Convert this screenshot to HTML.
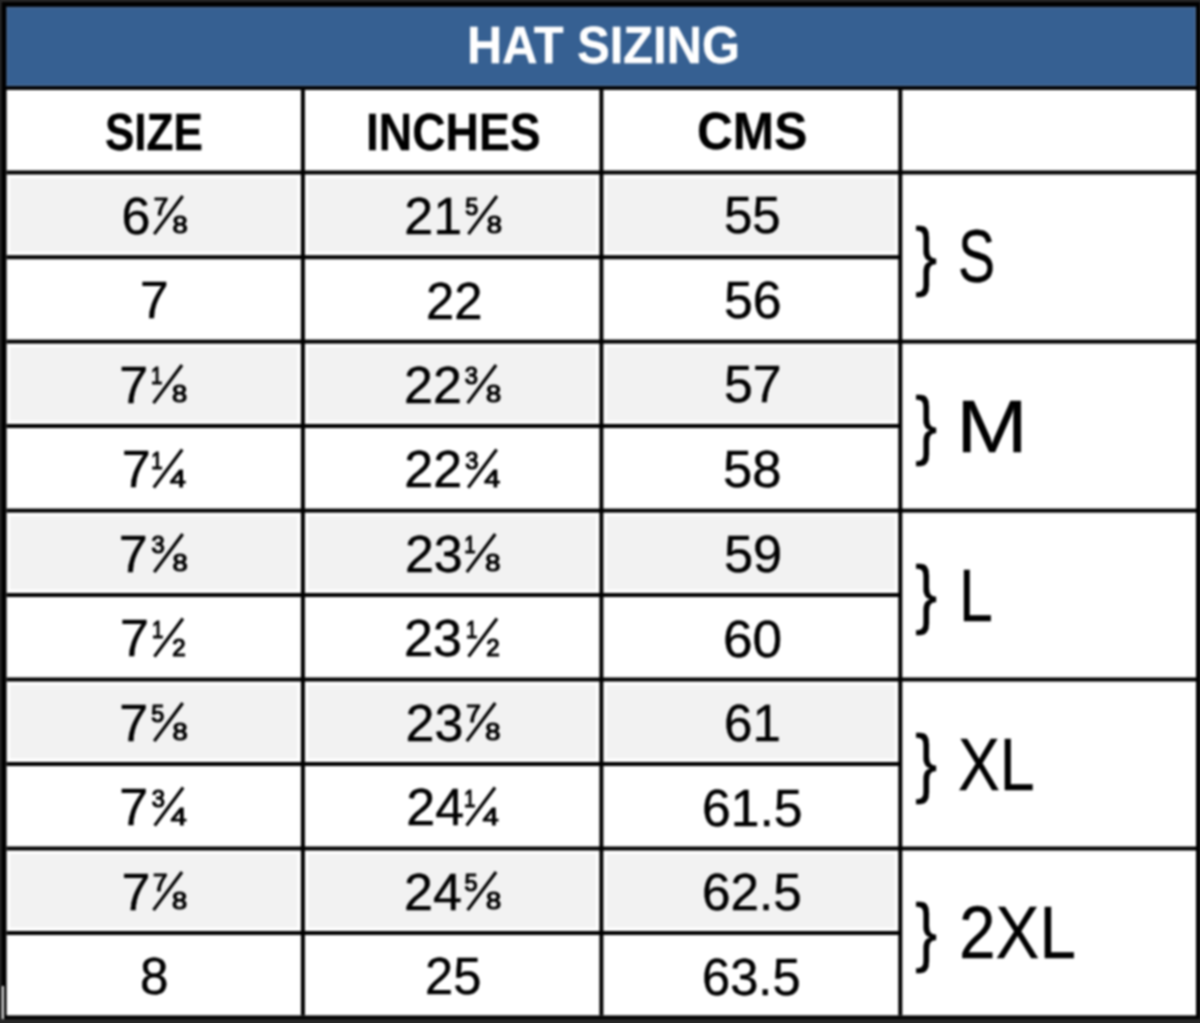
<!DOCTYPE html>
<html><head><meta charset="utf-8"><title>Hat Sizing</title>
<style>
html,body{margin:0;padding:0;width:1200px;height:1023px;overflow:hidden;background:#272727;}
svg{position:absolute;left:0;top:0;}
#w{position:absolute;left:0;top:0;width:1200px;height:1023px;filter:blur(0.8px);}
.f{-webkit-text-stroke:0.9px currentColor;}
.t{position:absolute;font-family:"Liberation Sans",sans-serif;line-height:1;white-space:nowrap;color:#000;transform-origin:0 0;}
</style></head><body>
<div id="w">
<svg width="1200" height="1023" viewBox="0 0 1200 1023">
<rect x="0" y="0" width="1200" height="1023" fill="#272727"/>
<rect x="1.7" y="2.0" width="1198.3" height="1017.1" fill="#000"/>
<rect x="6.6" y="89.8" width="1189.4" height="925.6" fill="#fff"/>
<rect x="6.6" y="6.9" width="1189.4" height="79.39999999999999" fill="#366092"/>
<rect x="6.6" y="6.9" width="1189.4" height="1.6" fill="#4a6a94"/>
<rect x="6.6" y="84.7" width="1189.4" height="1.6" fill="#4a6a94"/>
<rect x="6.6" y="6.9" width="1.6" height="79.39999999999999" fill="#4a6a94"/>
<rect x="1194.4" y="6.9" width="1.6" height="79.39999999999999" fill="#4a6a94"/>
<rect x="10.10" y="178.00" width="287.30" height="73.70" fill="#f2f2f2"/>
<rect x="308.40" y="178.00" width="287.50" height="73.70" fill="#f2f2f2"/>
<rect x="606.90" y="178.00" width="287.90" height="73.70" fill="#f2f2f2"/>
<rect x="10.10" y="347.10" width="287.30" height="73.40" fill="#f2f2f2"/>
<rect x="308.40" y="347.10" width="287.50" height="73.40" fill="#f2f2f2"/>
<rect x="606.90" y="347.10" width="287.90" height="73.40" fill="#f2f2f2"/>
<rect x="10.10" y="516.10" width="287.30" height="73.40" fill="#f2f2f2"/>
<rect x="308.40" y="516.10" width="287.50" height="73.40" fill="#f2f2f2"/>
<rect x="606.90" y="516.10" width="287.90" height="73.40" fill="#f2f2f2"/>
<rect x="10.10" y="685.00" width="287.30" height="73.50" fill="#f2f2f2"/>
<rect x="308.40" y="685.00" width="287.50" height="73.50" fill="#f2f2f2"/>
<rect x="606.90" y="685.00" width="287.90" height="73.50" fill="#f2f2f2"/>
<rect x="10.10" y="854.00" width="287.30" height="73.50" fill="#f2f2f2"/>
<rect x="308.40" y="854.00" width="287.50" height="73.50" fill="#f2f2f2"/>
<rect x="606.90" y="854.00" width="287.90" height="73.50" fill="#f2f2f2"/>
<rect x="6.6" y="170.50" width="1189.40" height="4.0" fill="#000"/>
<rect x="6.6" y="255.20" width="893.70" height="4.0" fill="#000"/>
<rect x="6.6" y="339.60" width="1189.40" height="4.0" fill="#000"/>
<rect x="6.6" y="424.00" width="893.70" height="4.0" fill="#000"/>
<rect x="6.6" y="508.60" width="1189.40" height="4.0" fill="#000"/>
<rect x="6.6" y="593.00" width="893.70" height="4.0" fill="#000"/>
<rect x="6.6" y="677.50" width="1189.40" height="4.0" fill="#000"/>
<rect x="6.6" y="762.00" width="893.70" height="4.0" fill="#000"/>
<rect x="6.6" y="846.50" width="1189.40" height="4.0" fill="#000"/>
<rect x="6.6" y="931.00" width="893.70" height="4.0" fill="#000"/>
<rect x="300.90" y="89.8" width="4.0" height="925.6" fill="#000"/>
<rect x="599.40" y="89.8" width="4.0" height="925.6" fill="#000"/>
<rect x="898.30" y="89.8" width="4.0" height="925.6" fill="#000"/>
<rect x="6.6" y="86.3" width="1189.4" height="3.5" fill="#000"/>
<rect x="1.9" y="986" width="1.9" height="33" fill="#fff"/><g font-family="Liberation Sans"><text transform="translate(121.56,233.80) scale(1.0000,1)" font-size="52.0" stroke="#000" stroke-width="0.45" fill="#000">6</text><text transform="translate(153.76,215.20) scale(1.0720,1)" font-size="24.42" stroke="#000" stroke-width="1.2" fill="#000">7</text><text transform="translate(172.61,233.20) scale(1.1171,1)" font-size="24.42" stroke="#000" stroke-width="1.2" fill="#000">8</text><line x1="154.20" y1="234.10" x2="182.70" y2="196.00" stroke="#000" stroke-width="3.2"/><text transform="translate(404.28,233.80) scale(1.0000,1)" font-size="52.0" stroke="#000" stroke-width="0.45" fill="#000">21</text><text transform="translate(465.36,215.20) scale(0.9588,1)" font-size="24.42" stroke="#000" stroke-width="1.2" fill="#000">5</text><text transform="translate(486.81,233.20) scale(1.1171,1)" font-size="24.42" stroke="#000" stroke-width="1.2" fill="#000">8</text><line x1="468.40" y1="234.10" x2="496.90" y2="196.00" stroke="#000" stroke-width="3.2"/><text transform="translate(119.33,402.80) scale(1.0000,1)" font-size="52.0" stroke="#000" stroke-width="0.45" fill="#000">7</text><text transform="translate(151.05,384.20) scale(0.8358,1)" font-size="24.42" stroke="#000" stroke-width="1.2" fill="#000">1</text><text transform="translate(171.91,402.20) scale(1.1171,1)" font-size="24.42" stroke="#000" stroke-width="1.2" fill="#000">8</text><line x1="153.50" y1="403.10" x2="182.00" y2="365.00" stroke="#000" stroke-width="3.2"/><text transform="translate(404.08,402.80) scale(1.0000,1)" font-size="52.0" stroke="#000" stroke-width="0.45" fill="#000">22</text><text transform="translate(464.79,384.20) scale(0.9760,1)" font-size="24.42" stroke="#000" stroke-width="1.2" fill="#000">3</text><text transform="translate(486.01,402.20) scale(1.1171,1)" font-size="24.42" stroke="#000" stroke-width="1.2" fill="#000">8</text><line x1="467.60" y1="403.10" x2="496.10" y2="365.00" stroke="#000" stroke-width="3.2"/><text transform="translate(121.73,487.30) scale(1.0000,1)" font-size="52.0" stroke="#000" stroke-width="0.45" fill="#000">7</text><text transform="translate(151.30,468.70) scale(0.8358,1)" font-size="24.42" stroke="#000" stroke-width="1.2" fill="#000">1</text><text transform="translate(169.94,486.70) scale(1.1703,1)" font-size="24.42" stroke="#000" stroke-width="1.2" fill="#000">4</text><line x1="153.75" y1="487.60" x2="182.25" y2="449.50" stroke="#000" stroke-width="3.2"/><text transform="translate(404.28,487.30) scale(1.0000,1)" font-size="52.0" stroke="#000" stroke-width="0.45" fill="#000">22</text><text transform="translate(465.34,468.70) scale(0.9760,1)" font-size="24.42" stroke="#000" stroke-width="1.2" fill="#000">3</text><text transform="translate(484.34,486.70) scale(1.1703,1)" font-size="24.42" stroke="#000" stroke-width="1.2" fill="#000">4</text><line x1="468.15" y1="487.60" x2="496.65" y2="449.50" stroke="#000" stroke-width="3.2"/><text transform="translate(118.63,571.80) scale(1.0000,1)" font-size="52.0" stroke="#000" stroke-width="0.45" fill="#000">7</text><text transform="translate(151.39,553.20) scale(0.9760,1)" font-size="24.42" stroke="#000" stroke-width="1.2" fill="#000">3</text><text transform="translate(172.61,571.20) scale(1.1171,1)" font-size="24.42" stroke="#000" stroke-width="1.2" fill="#000">8</text><line x1="154.20" y1="572.10" x2="182.70" y2="534.00" stroke="#000" stroke-width="3.2"/><text transform="translate(404.88,571.80) scale(1.0000,1)" font-size="52.0" stroke="#000" stroke-width="0.45" fill="#000">23</text><text transform="translate(464.35,553.20) scale(0.8358,1)" font-size="24.42" stroke="#000" stroke-width="1.2" fill="#000">1</text><text transform="translate(485.21,571.20) scale(1.1171,1)" font-size="24.42" stroke="#000" stroke-width="1.2" fill="#000">8</text><line x1="466.80" y1="572.10" x2="495.30" y2="534.00" stroke="#000" stroke-width="3.2"/><text transform="translate(120.03,656.30) scale(1.0000,1)" font-size="52.0" stroke="#000" stroke-width="0.45" fill="#000">7</text><text transform="translate(151.95,637.70) scale(0.8358,1)" font-size="24.42" stroke="#000" stroke-width="1.2" fill="#000">1</text><text transform="translate(172.19,655.70) scale(0.9888,1)" font-size="24.42" stroke="#000" stroke-width="1.2" fill="#000">2</text><line x1="154.40" y1="656.60" x2="182.90" y2="618.50" stroke="#000" stroke-width="3.2"/><text transform="translate(404.08,656.30) scale(1.0000,1)" font-size="52.0" stroke="#000" stroke-width="0.45" fill="#000">23</text><text transform="translate(466.05,637.70) scale(0.8358,1)" font-size="24.42" stroke="#000" stroke-width="1.2" fill="#000">1</text><text transform="translate(486.29,655.70) scale(0.9888,1)" font-size="24.42" stroke="#000" stroke-width="1.2" fill="#000">2</text><line x1="468.50" y1="656.60" x2="497.00" y2="618.50" stroke="#000" stroke-width="3.2"/><text transform="translate(119.33,740.80) scale(1.0000,1)" font-size="52.0" stroke="#000" stroke-width="0.45" fill="#000">7</text><text transform="translate(151.16,722.20) scale(0.9588,1)" font-size="24.42" stroke="#000" stroke-width="1.2" fill="#000">5</text><text transform="translate(172.61,740.20) scale(1.1171,1)" font-size="24.42" stroke="#000" stroke-width="1.2" fill="#000">8</text><line x1="154.20" y1="741.10" x2="182.70" y2="703.00" stroke="#000" stroke-width="3.2"/><text transform="translate(405.58,740.80) scale(1.0000,1)" font-size="52.0" stroke="#000" stroke-width="0.45" fill="#000">23</text><text transform="translate(466.36,722.20) scale(1.0720,1)" font-size="24.42" stroke="#000" stroke-width="1.2" fill="#000">7</text><text transform="translate(485.21,740.20) scale(1.1171,1)" font-size="24.42" stroke="#000" stroke-width="1.2" fill="#000">8</text><line x1="466.80" y1="741.10" x2="495.30" y2="703.00" stroke="#000" stroke-width="3.2"/><text transform="translate(119.33,825.30) scale(1.0000,1)" font-size="52.0" stroke="#000" stroke-width="0.45" fill="#000">7</text><text transform="translate(151.84,806.70) scale(0.9760,1)" font-size="24.42" stroke="#000" stroke-width="1.2" fill="#000">3</text><text transform="translate(170.84,824.70) scale(1.1703,1)" font-size="24.42" stroke="#000" stroke-width="1.2" fill="#000">4</text><line x1="154.65" y1="825.60" x2="183.15" y2="787.50" stroke="#000" stroke-width="3.2"/><text transform="translate(406.28,825.30) scale(1.0000,1)" font-size="52.0" stroke="#000" stroke-width="0.45" fill="#000">24</text><text transform="translate(464.10,806.70) scale(0.8358,1)" font-size="24.42" stroke="#000" stroke-width="1.2" fill="#000">1</text><text transform="translate(482.74,824.70) scale(1.1703,1)" font-size="24.42" stroke="#000" stroke-width="1.2" fill="#000">4</text><line x1="466.55" y1="825.60" x2="495.05" y2="787.50" stroke="#000" stroke-width="3.2"/><text transform="translate(121.53,909.80) scale(1.0000,1)" font-size="52.0" stroke="#000" stroke-width="0.45" fill="#000">7</text><text transform="translate(153.06,891.20) scale(1.0720,1)" font-size="24.42" stroke="#000" stroke-width="1.2" fill="#000">7</text><text transform="translate(171.91,909.20) scale(1.1171,1)" font-size="24.42" stroke="#000" stroke-width="1.2" fill="#000">8</text><line x1="153.50" y1="910.10" x2="182.00" y2="872.00" stroke="#000" stroke-width="3.2"/><text transform="translate(404.08,909.80) scale(1.0000,1)" font-size="52.0" stroke="#000" stroke-width="0.45" fill="#000">24</text><text transform="translate(464.56,891.20) scale(0.9588,1)" font-size="24.42" stroke="#000" stroke-width="1.2" fill="#000">5</text><text transform="translate(486.01,909.20) scale(1.1171,1)" font-size="24.42" stroke="#000" stroke-width="1.2" fill="#000">8</text><line x1="467.60" y1="910.10" x2="496.10" y2="872.00" stroke="#000" stroke-width="3.2"/></g>
</svg>
<div class="t" style="left:466.69px;top:19.56px;font-size:51.50px;transform:scaleX(0.9473);font-weight:bold;color:#fff;-webkit-text-stroke:0.4px currentColor;">HAT SIZING</div>
<div class="t" style="left:105.46px;top:107.08px;font-size:51.00px;transform:scaleX(0.8635);font-weight:bold;-webkit-text-stroke:0.3px currentColor;">SIZE</div>
<div class="t" style="left:365.87px;top:107.08px;font-size:51.00px;transform:scaleX(0.9064);font-weight:bold;-webkit-text-stroke:0.3px currentColor;">INCHES</div>
<div class="t" style="left:696.79px;top:106.38px;font-size:51.00px;transform:scaleX(0.9727);font-weight:bold;-webkit-text-stroke:0.3px currentColor;">CMS</div>
<div class="t" style="left:724.35px;top:189.47px;font-size:52.00px;transform:scaleX(0.9807);-webkit-text-stroke:0.45px currentColor;">55</div>
<div class="t" style="left:139.81px;top:274.47px;font-size:52.00px;transform:scaleX(0.9907);-webkit-text-stroke:0.45px currentColor;">7</div>
<div class="t" style="left:425.88px;top:274.97px;font-size:52.00px;transform:scaleX(0.9767);-webkit-text-stroke:0.45px currentColor;">22</div>
<div class="t" style="left:724.33px;top:274.47px;font-size:52.00px;transform:scaleX(0.9961);-webkit-text-stroke:0.45px currentColor;">56</div>
<div class="t" style="left:724.31px;top:358.48px;font-size:52.00px;transform:scaleX(0.9961);-webkit-text-stroke:0.45px currentColor;">57</div>
<div class="t" style="left:722.83px;top:443.49px;font-size:52.00px;transform:scaleX(1.0108);-webkit-text-stroke:0.45px currentColor;">58</div>
<div class="t" style="left:723.81px;top:527.98px;font-size:52.00px;transform:scaleX(1.0070);-webkit-text-stroke:0.45px currentColor;">59</div>
<div class="t" style="left:722.74px;top:612.53px;font-size:52.00px;transform:scaleX(1.0222);-webkit-text-stroke:0.45px currentColor;">60</div>
<div class="t" style="left:723.84px;top:697.02px;font-size:52.00px;transform:scaleX(0.9818);-webkit-text-stroke:0.45px currentColor;">61</div>
<div class="t" style="left:701.56px;top:781.52px;font-size:52.00px;transform:scaleX(0.9927);-webkit-text-stroke:0.45px currentColor;">61.5</div>
<div class="t" style="left:702.34px;top:866.03px;font-size:52.00px;transform:scaleX(0.9865);-webkit-text-stroke:0.45px currentColor;">62.5</div>
<div class="t" style="left:139.83px;top:950.48px;font-size:52.00px;transform:scaleX(0.9856);-webkit-text-stroke:0.45px currentColor;">8</div>
<div class="t" style="left:425.40px;top:950.49px;font-size:52.00px;transform:scaleX(0.9738);-webkit-text-stroke:0.45px currentColor;">25</div>
<div class="t" style="left:702.36px;top:950.53px;font-size:52.00px;transform:scaleX(0.9741);-webkit-text-stroke:0.45px currentColor;">63.5</div>
<div class="t" style="left:915.26px;top:218.16px;font-size:75.60px;transform:scaleX(0.8813);-webkit-text-stroke:0.3px currentColor;">}</div>
<div class="t" style="left:958.46px;top:219.48px;font-size:74.80px;transform:scaleX(0.7432);-webkit-text-stroke:0.35px currentColor;">S</div>
<div class="t" style="left:915.26px;top:387.17px;font-size:75.60px;transform:scaleX(0.8813);-webkit-text-stroke:0.3px currentColor;">}</div>
<div class="t" style="left:955.82px;top:388.75px;font-size:74.80px;transform:scaleX(1.1557);-webkit-text-stroke:0.35px currentColor;">M</div>
<div class="t" style="left:915.26px;top:556.17px;font-size:75.60px;transform:scaleX(0.8813);-webkit-text-stroke:0.3px currentColor;">}</div>
<div class="t" style="left:959.27px;top:557.62px;font-size:74.80px;transform:scaleX(0.8144);-webkit-text-stroke:0.35px currentColor;">L</div>
<div class="t" style="left:915.26px;top:725.17px;font-size:75.60px;transform:scaleX(0.8813);-webkit-text-stroke:0.3px currentColor;">}</div>
<div class="t" style="left:957.90px;top:726.71px;font-size:74.80px;transform:scaleX(0.8385);-webkit-text-stroke:0.35px currentColor;">XL</div>
<div class="t" style="left:915.26px;top:893.67px;font-size:75.60px;transform:scaleX(0.8813);-webkit-text-stroke:0.3px currentColor;">}</div>
<div class="t" style="left:958.58px;top:895.32px;font-size:74.80px;transform:scaleX(0.8791);-webkit-text-stroke:0.35px currentColor;">2XL</div>
</div>
</body></html>
